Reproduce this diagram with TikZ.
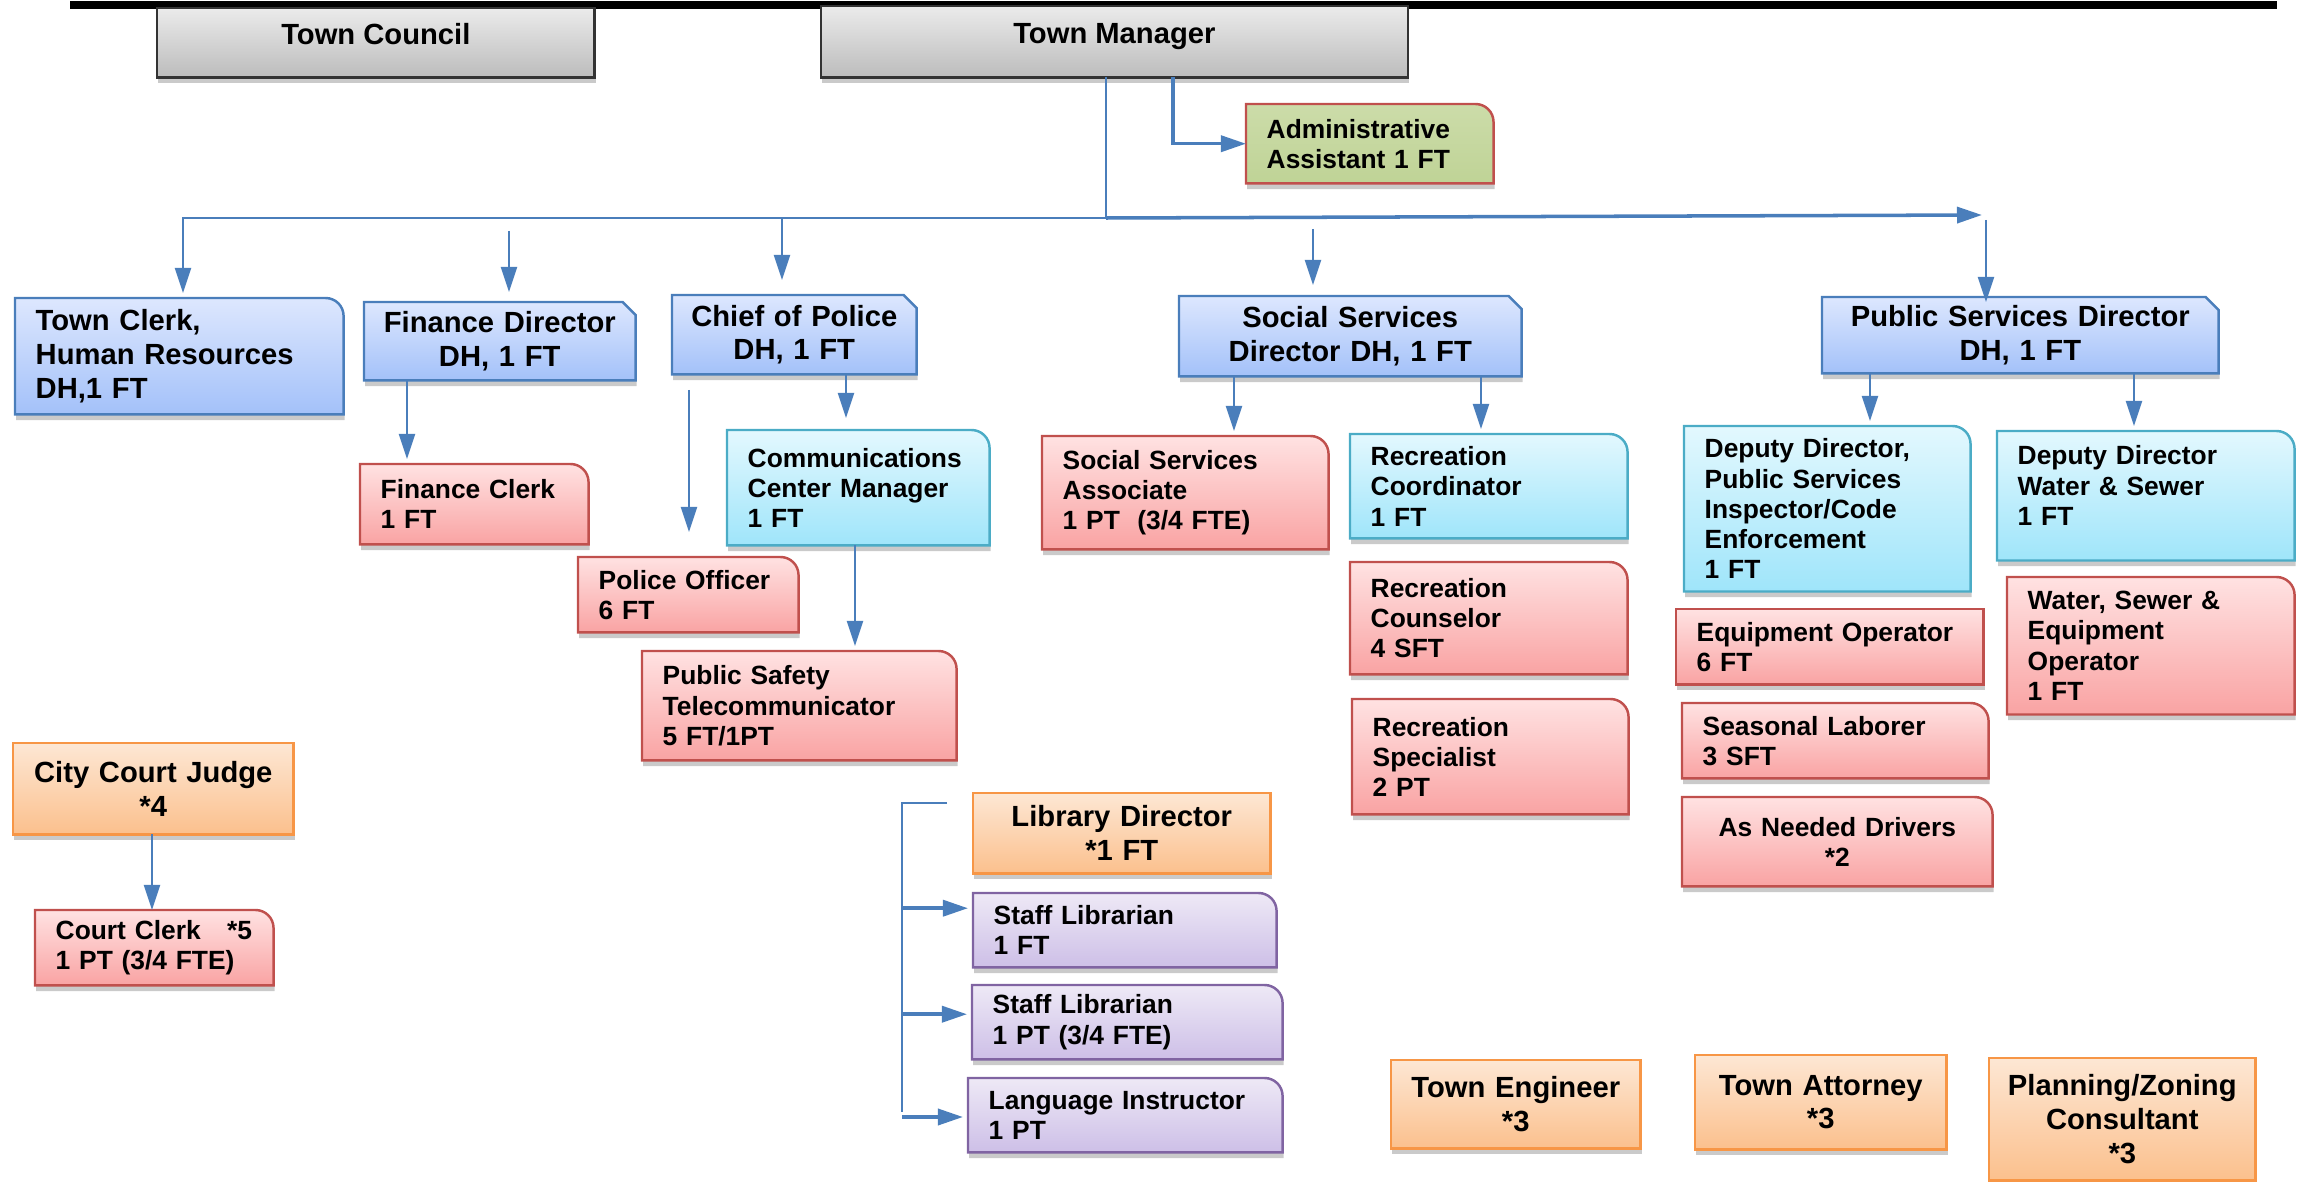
\documentclass[tikz,border=0pt]{standalone}
\usepackage{fontspec}
\setmainfont{Liberation Sans}
\usetikzlibrary{arrows.meta,backgrounds,shadows}

\definecolor{graytop}{HTML}{EBEBEB}
\definecolor{graybot}{HTML}{BCBCBC}
\definecolor{grayline}{HTML}{333333}
\definecolor{bluetop}{HTML}{DDE7FE}
\definecolor{bluebot}{HTML}{A3C1F9}
\definecolor{blueline}{HTML}{4A7EBB}
\definecolor{cyantop}{HTML}{E3F8FE}
\definecolor{cyanbot}{HTML}{9FE5FA}
\definecolor{cyanline}{HTML}{4BACC6}
\definecolor{redtop}{HTML}{FFE2E2}
\definecolor{redbot}{HTML}{F9A3A3}
\definecolor{redline}{HTML}{C0504D}
\definecolor{orangetop}{HTML}{FDE7D4}
\definecolor{orangebot}{HTML}{FBC08D}
\definecolor{orangeline}{HTML}{F79646}
\definecolor{purpletop}{HTML}{EEE9F6}
\definecolor{purplebot}{HTML}{CDBFE7}
\definecolor{purpleline}{HTML}{8064A2}
\definecolor{greentop}{HTML}{CCDCA9}
\definecolor{greenbot}{HTML}{BFD396}
\definecolor{linkblue}{HTML}{4A7EBB}

\begin{document}
\begin{tikzpicture}[x=0.01cm, y=-0.01cm,
    bigtext/.style={font={\fontsize{8.3}{9.6}\selectfont\bfseries}},
    smalltext/.style={font={\fontsize{7.5}{8.6}\selectfont\bfseries}},
    lbox/.style={anchor=north west, inner xsep=0.2cm, inner ysep=0pt, align=left},
    cbox/.style={anchor=north west, inner xsep=0.1cm, inner ysep=0pt, align=center},
    shade box/.style={drop shadow={shadow xshift=0.3pt, shadow yshift=-1.6pt, opacity=0.35, fill=black!60}, line width=0.7pt},
    graybox/.style={shade box, top color=graytop, bottom color=graybot, draw=grayline},
    bluebox/.style={shade box, top color=bluetop, bottom color=bluebot, draw=blueline},
    cyanbox/.style={shade box, top color=cyantop, bottom color=cyanbot, draw=cyanline},
    redbox/.style={shade box, top color=redtop, bottom color=redbot, draw=redline},
    orangebox/.style={shade box, top color=orangetop, bottom color=orangebot, draw=orangeline},
    purplebox/.style={shade box, top color=purpletop, bottom color=purplebot, draw=purpleline},
    greenbox/.style={shade box, top color=greentop, bottom color=greenbot, draw=redline},
    link/.style={draw=linkblue, line width=0.6pt, shorten >=0.05cm, -{Triangle[length=0.25cm, width=0.16cm]}},
    thicklink/.style={link, line width=1pt},
  ]
  \useasboundingbox (0,0) rectangle (2308,1182);
  \def\rad{0.18cm}
  \def\snip{0.13cm}

  % top of the chart
  \node[cbox, bigtext, minimum width=4.36cm, inner xsep=0pt, text height=0.355cm, text depth=0.325cm] (council) at (157,8) {Town Council};
  \node[cbox, bigtext, minimum width=5.85cm, inner xsep=0pt, text height=0.365cm, text depth=0.335cm] (manager) at (821,6) {Town Manager};
  \node[lbox, smalltext, text width=2.06cm, minimum height=0.78cm] (admin) at (1246,104) {Administrative\\Assistant 1 FT};

  % department heads
  \node[lbox, bigtext, text width=2.87cm, minimum height=1.15cm] (clerk) at (15,298) {Town Clerk,\\Human Resources\\DH,1 FT};
  \node[cbox, bigtext, text width=2.50cm, minimum height=0.77cm] (finance) at (364,302) {Finance Director\\DH, 1 FT};
  \node[cbox, bigtext, text width=2.23cm, minimum height=0.78cm] (police) at (672,295) {Chief of Police\\DH, 1 FT};
  \node[cbox, bigtext, text width=3.21cm, minimum height=0.79cm] (social) at (1179,296) {Social Services\\Director DH, 1 FT};
  \node[cbox, bigtext, text width=3.75cm, minimum height=0.75cm] (public) at (1822,297) {Public Services Director\\DH, 1 FT};

  % finance and police
  \node[lbox, smalltext, text width=1.87cm, minimum height=0.79cm] (finclerk) at (360,464) {Finance Clerk\\1 FT};
  \node[lbox, smalltext, text width=1.79cm, minimum height=0.74cm] (officer) at (578,557) {Police Officer\\6 FT};
  \node[lbox, smalltext, text width=2.21cm, minimum height=1.14cm] (comm) at (727,430) {Communications\\Center Manager\\1 FT};
  \node[lbox, smalltext, text width=2.73cm, minimum height=1.08cm] (telecom) at (642,651) {Public Safety\\Telecommunicator\\5 FT/1PT};

  % court
  \node[cbox, bigtext, text width=2.59cm, minimum height=0.90cm] (judge) at (13,743) {City Court Judge\\{}*4};
  \node[lbox, smalltext, text width=1.97cm, minimum height=0.74cm] (courtclerk) at (35,910) {Court Clerk\ \ \ *5\\1 PT (3/4 FTE)};

  % library
  \node[cbox, bigtext, text width=2.76cm, minimum height=0.79cm] (library) at (973,793) {Library Director\\{}*1 FT};
  \node[lbox, smalltext, text width=2.62cm, minimum height=0.73cm] (staff1) at (973,893) {Staff Librarian\\1 FT};
  \node[lbox, smalltext, text width=2.69cm, minimum height=0.73cm] (staff2) at (972,985) {Staff Librarian\\1 PT (3/4 FTE)};
  \node[lbox, smalltext, text width=2.73cm, minimum height=0.73cm] (language) at (968,1078) {Language Instructor\\1 PT};

  % social services
  \node[lbox, smalltext, text width=2.45cm, minimum height=1.12cm] (associate) at (1042,436) {Social Services\\Associate\\1 PT\ \ (3/4 FTE)};
  \node[lbox, smalltext, text width=2.36cm, minimum height=1.03cm] (reccoord) at (1350,434) {Recreation\\Coordinator\\1 FT};
  \node[lbox, smalltext, text width=2.36cm, minimum height=1.11cm] (reccouns) at (1350,562) {Recreation\\Counselor\\4 SFT};
  \node[lbox, smalltext, text width=2.35cm, minimum height=1.14cm] (recspec) at (1352,699) {Recreation\\Specialist\\2 PT};

  % public services
  \node[lbox, smalltext, text width=2.45cm, minimum height=1.64cm] (deputyps) at (1684,426) {Deputy Director,\\Public Services\\Inspector/Code\\Enforcement\\1 FT};
  \node[lbox, smalltext, text width=2.56cm, minimum height=1.28cm] (deputyws) at (1997,431) {Deputy Director\\Water \& Sewer\\1 FT\\[-0.1cm]\mbox{}};
  \node[lbox, smalltext, text width=2.66cm, minimum height=0.74cm] (equip) at (1676,609) {Equipment Operator\\6 FT};
  \node[lbox, smalltext, text width=2.65cm, minimum height=0.74cm] (seasonal) at (1682,703) {Seasonal Laborer\\3 SFT};
  \node[cbox, smalltext, text width=2.89cm, minimum height=0.88cm] (drivers) at (1682,797) {As Needed Drivers\\{}*2};
  \node[lbox, smalltext, text width=2.46cm, minimum height=1.36cm] (waterop) at (2007,577) {Water, Sewer \&\\Equipment\\Operator\\1 FT};

  % consultants
  \node[cbox, bigtext, text width=2.28cm, minimum height=0.87cm] (engineer) at (1391,1060) {Town Engineer\\{}*3};
  \node[cbox, bigtext, text width=2.30cm, minimum height=0.93cm] (attorney) at (1695,1055) {Town Attorney\\{}*3};
  \node[cbox, bigtext, text width=2.45cm, minimum height=1.21cm] (planning) at (1989,1058) {Planning/Zoning\\Consultant\\{}*3};

  % box outlines
  \begin{scope}[on background layer]
    \draw[line width=2pt] (70,5) -- (2277,5);
    \foreach \n/\c in {council/graybox, manager/graybox, judge/orangebox, library/orangebox,
        engineer/orangebox, attorney/orangebox, planning/orangebox, equip/redbox}
      \path[\c] (\n.south west) rectangle (\n.north east);
    \foreach \n/\c in {finance/bluebox, police/bluebox, social/bluebox, public/bluebox}
      \path[\c] (\n.south west) -- (\n.north west) -- ([xshift=-\snip]\n.north east)
        -- ([yshift=-\snip]\n.north east) -- (\n.south east) -- cycle;
    \foreach \n/\c in {admin/greenbox, clerk/bluebox, finclerk/redbox, officer/redbox,
        comm/cyanbox, telecom/redbox, courtclerk/redbox, staff1/purplebox, staff2/purplebox,
        language/purplebox, associate/redbox, reccoord/cyanbox, reccouns/redbox, recspec/redbox,
        deputyps/cyanbox, deputyws/cyanbox, seasonal/redbox, drivers/redbox, waterop/redbox}
      \path[\c] (\n.south west) -- (\n.north west) -- ([xshift=-\rad]\n.north east)
        arc[start angle=90, end angle=0, radius=\rad] -- (\n.south east) -- cycle;
  \end{scope}

  % connectors
  \coordinate (trunk) at (1106,218);
  \coordinate (lt) at (183,218);
  \coordinate (rt) at (1982,215);
  \coordinate (aa) at (1173,142);
  \coordinate (fa) at (509,231);
  \coordinate (pa) at (782,218);
  \coordinate (sa) at (1313,229);
  \coordinate (ua) at (1986,220);
  \coordinate (oa) at (689,390);
  \coordinate (xfc) at (407,0);
  \coordinate (xcm) at (846,0);
  \coordinate (xtc) at (855,0);
  \coordinate (xas) at (1234,0);
  \coordinate (xrc) at (1481,0);
  \coordinate (xdp) at (1870,0);
  \coordinate (xdw) at (2134,0);
  \coordinate (xcj) at (152,0);
  \coordinate (la) at (947,803);
  \coordinate (lb) at (902,803);
  \coordinate (lc) at (902,1117);

  \draw[link] (trunk |- manager.south) -- (trunk) -- (lt) -- (lt |- clerk.north);
  \draw[thicklink, shorten >=0pt] (trunk) -- (rt);
  \draw[thicklink, shorten >=0pt] (aa |- manager.south) |- (admin.west);
  \draw[link, shorten >=0.1cm] (fa) -- (fa |- finance.north);
  \draw[link, shorten >=0.15cm] (pa) -- (pa |- police.north);
  \draw[link, shorten >=0.11cm] (sa) -- (sa |- social.north);
  \draw[link, shorten >=-0.05cm] (ua) -- (ua |- public.north);

  \draw[link] (xfc |- finance.south) -- (xfc |- finclerk.north);
  \draw[link, shorten >=0.25cm] (oa) -- (oa |- officer.north);
  \draw[link, shorten >=0.12cm] (xcm |- police.south) -- (xcm |- comm.north);
  \draw[link] (xtc |- comm.south) -- (xtc |- telecom.north);
  \draw[link] (xas |- social.south) -- (xas |- associate.north);
  \draw[link] (xrc |- social.south) -- (xrc |- reccoord.north);
  \draw[link] (xdp |- public.south) -- (xdp |- deputyps.north);
  \draw[link] (xdw |- public.south) -- (xdw |- deputyws.north);
  \draw[link, shorten >=0pt] (xcj |- judge.south) -- (xcj |- courtclerk.north);

  \draw[link, -] (la) -- (lb) -- (lc);
  \draw[thicklink] ([yshift=0.22cm]lb |- staff1.west) -- ([yshift=0.22cm]staff1.west);
  \draw[thicklink] ([yshift=0.08cm]lb |- staff2.west) -- ([yshift=0.08cm]staff2.west);
  \draw[thicklink] (lc) -- (lc -| language.west);
\end{tikzpicture}
\end{document}
